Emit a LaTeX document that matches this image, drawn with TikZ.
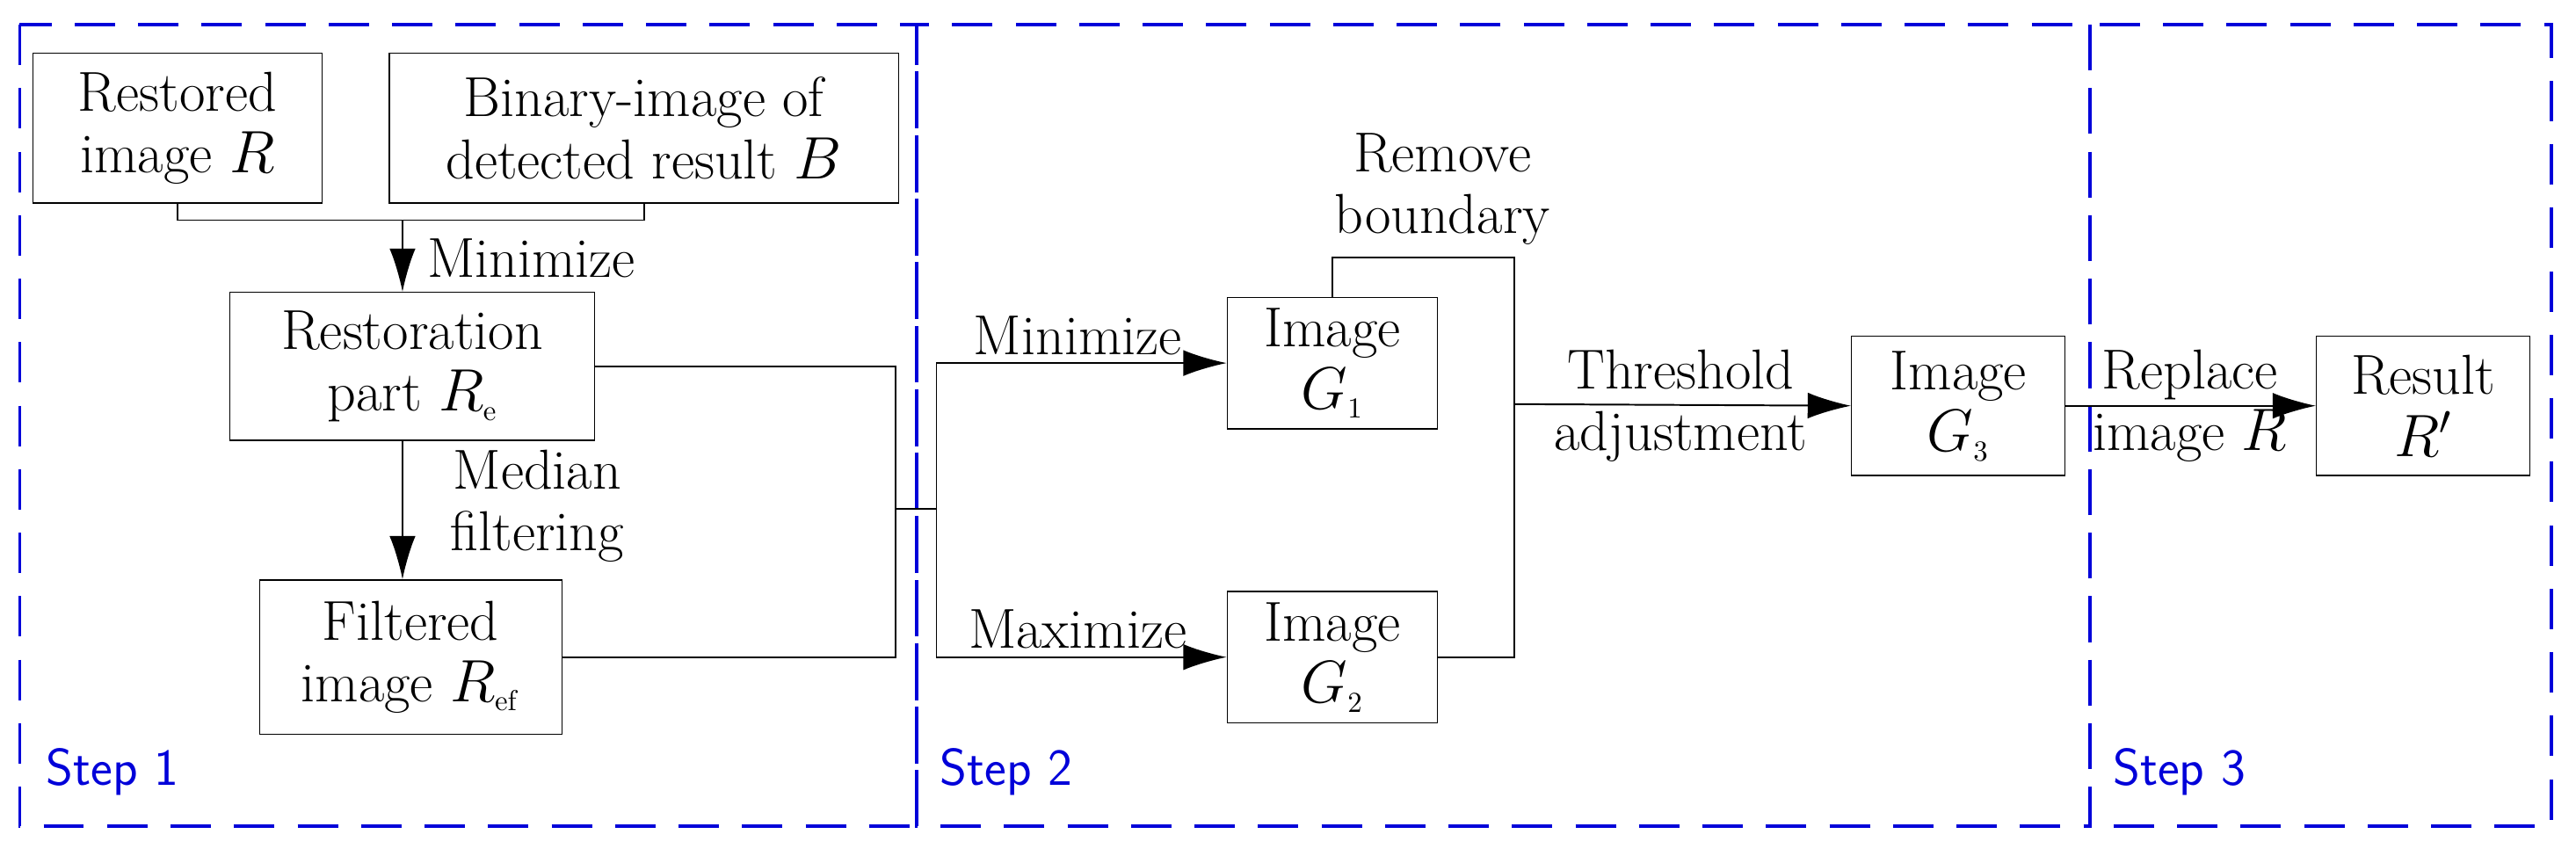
\documentclass[tikz,border=0pt]{standalone}
\usetikzlibrary{shapes, arrows, arrows.meta}
\tikzstyle{box} = [rectangle, draw, text centered, inner sep=0pt]
\tikzstyle{line} = [draw, -{Latex[length=15pt,width=9pt]}, line width=0.6pt]
\tikzstyle{wire} = [draw, line width=0.6pt]
\tikzstyle{stepframe} = [draw=blue!85!black, dash pattern=on 14pt off 8pt, line width=1.1pt]
\tikzstyle{steplabel} = [text=blue!85!black, anchor=west, font=\fontsize{18}{20}\selectfont\sffamily]
\tikzstyle{lbl} = [align=center, inner sep=1pt]
\newcommand{\sub}[1]{_{\mathrm{\scriptscriptstyle #1}}}

\begin{document}
\begin{tikzpicture}[x=0.02cm, y=-0.02cm, align=center, font=\fontsize{19.5}{21.5}\selectfont]
    \useasboundingbox (0,0) rectangle (1568,521);
    % step frames
    \draw [stepframe] (12,15) rectangle (558,503);
    \draw [stepframe] (558,15) rectangle (1272,503);
    \draw [stepframe] (1272,15) rectangle (1553,503);
    \node [steplabel] (s1) at (22,470) {Step 1};
    \node [steplabel] (s2) at (566,470) {Step 2};
    \node [steplabel] (s3) at (1280,470) {Step 3};

    % nodes
    \node [box, minimum width=3.52cm, minimum height=1.82cm] (restored) at (108,78) {Restored\\image $R$};
    \node [box, minimum width=6.2cm, minimum height=1.82cm] (binary) at (392,78) {Binary-image of\\detected result $B$};
    \node [box, minimum width=4.44cm, minimum height=1.8cm] (restoration) at (251,223) {Restoration\\part $R\sub{e}$};
    \node [box, minimum width=3.68cm, minimum height=1.88cm] (filtered) at (250,400) {Filtered\\image $R\sub{ef}$};
    \node [box, minimum width=2.56cm, minimum height=1.6cm] (g1) at (811,221) {Image\\$G\sub{1}$};
    \node [box, minimum width=2.56cm, minimum height=1.6cm] (g2) at (811,400) {Image\\$G\sub{2}$};
    \node [box, minimum width=2.6cm, minimum height=1.7cm] (g3) at (1192,247) {Image\\$G\sub{3}$};
    \node [box, minimum width=2.6cm, minimum height=1.7cm] (result) at (1475,247) {Result\\$R'$};

    % junctions
    \coordinate (top) at (245,134);
    \coordinate (join) at (545,310);
    \coordinate (split) at (570,310);
    \coordinate (merge) at (922,246);

    % step 1
    \path [wire] (restored.south) |- (top) -| (binary.south);
    \path [line] (top) -- (top |- restoration.north);
    \node [lbl, anchor=west] (min1) at (258,157) {Minimize};
    \path [line] (restoration.south -| top) -- (filtered.north -| top);
    \node [lbl] (median) at (327,308) {Median\\filtering};
    \path [wire] (restoration.east) -| (join);
    \path [wire] (filtered.east) -| (join);
    \path [wire] (join) -- (split);

    % step 2
    \path [line] (split) |- (g1.west);
    \path [line] (split) |- (g2.west);
    \node [lbl, anchor=south] (min2) at (656,218) {Minimize};
    \node [lbl, anchor=south] (max2) at (656,397) {Maximize};
    \path [wire] (g1.north) |- (merge |- 0,157) -- (merge);
    \path [wire] (g2.east) -| (merge);
    \node [lbl] (remove) at (878,115) {Remove\\boundary};
    \path [line] (merge) -- (g3.west);
    \node [lbl] (thresh) at (1023,247) {Threshold\\adjustment};

    % step 3
    \path [line] (g3.east) -- (result.west);
    \node [lbl] (replace) at (1333,247) {Replace\\image $R$};
\end{tikzpicture}
\end{document}
